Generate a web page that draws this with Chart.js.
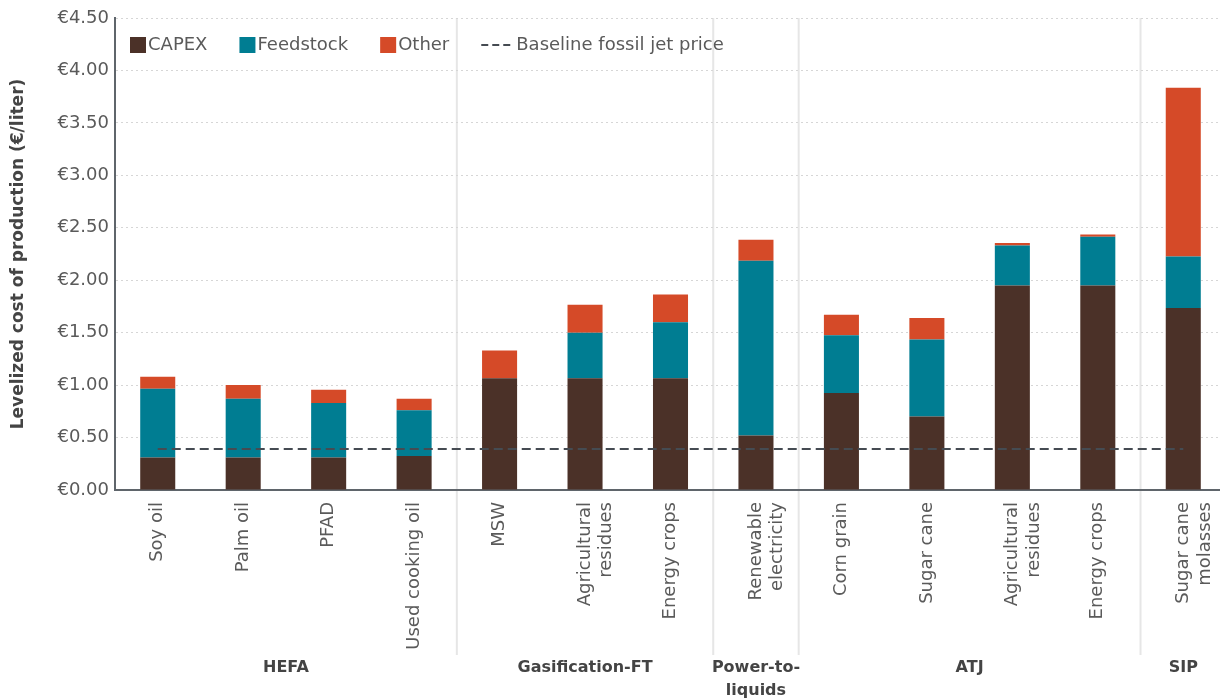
<!DOCTYPE html>
<html>
<head>
<meta charset="utf-8">
<script src="https://cdn.jsdelivr.net/npm/chart.js@4.4.0/dist/chart.umd.min.js"></script>
<style>
body{margin:0;background:#fff;overflow:hidden;}
#wrap{width:1220px;height:700px;overflow:hidden;}
</style>
</head>
<body>
<div id="wrap"><canvas id="costChart" width="1226" height="700"></canvas></div>
<script>
// categories (pathway feedstocks)
const categories = [
  "Soy oil", "Palm oil", "PFAD", "Used cooking oil",
  "MSW", ["Agricultural", "residues"], "Energy crops",
  ["Renewable", "electricity"],
  "Corn grain", "Sugar cane", ["Agricultural", "residues"], "Energy crops",
  ["Sugar cane", "molasses"]
];

// cost components, €/liter
const capex     = [0.31, 0.31, 0.31, 0.325, 1.065, 1.065, 1.065, 0.52, 0.925, 0.70, 1.95, 1.95, 1.735];
const feedstock = [0.655, 0.56, 0.52, 0.435, 0, 0.435, 0.535, 1.665, 0.55, 0.735, 0.38, 0.465, 0.49];
const other     = [0.115, 0.13, 0.125, 0.11, 0.265, 0.265, 0.265, 0.20, 0.195, 0.205, 0.025, 0.02, 1.61];
const baselinePrice = 0.39;

// pathway groups
const groupNames = ["HEFA", "Gasification-FT", ["Power-to-", "liquids"], "ATJ", "SIP"];
const groupFirst = [0, 4, 7, 8, 12];
const groupLast  = [3, 6, 7, 11, 12];

const FONT = "DejaVu Sans";
const TEXT = "#5a5a5a";

const colors = {capex:"#4b3128", feedstock:"#007d92", other:"#d54a28", baseline:"#454b52"};

const groupPlugin = {
  id:"groups",
  beforeDraw(chart){
    const {ctx, chartArea, scales:{x}} = chart;
    ctx.save();
    ctx.strokeStyle = "#e6e6e6";
    ctx.lineWidth = 2;
    groupFirst.slice(1).forEach(function(i){
      const px = (x.getPixelForValue(i - 1) + x.getPixelForValue(i)) / 2;
      ctx.beginPath();
      ctx.moveTo(px, chartArea.top);
      ctx.lineTo(px, chartArea.bottom + 165);
      ctx.stroke();
    });
    ctx.restore();
  },
  afterDraw(chart){
    const {ctx, chartArea, scales:{x}} = chart;
    ctx.save();

    // group names
    ctx.fillStyle = "#444";
    ctx.font = "bold 16px '" + FONT + "'";
    ctx.textAlign = "center";
    ctx.textBaseline = "middle";
    groupNames.forEach(function(name, g){
      const cx = (x.getPixelForValue(groupFirst[g]) + x.getPixelForValue(groupLast[g])) / 2;
      const lines = Array.isArray(name) ? name : [name];
      lines.forEach(function(line, k){
        ctx.fillText(line, cx, 668 + k * 23);
      });
    });

    // legend
    ctx.font = "18px '" + FONT + "'";
    ctx.textAlign = "left";
    let lx = chartArea.left + 15;
    const ly = 45;
    [["CAPEX", colors.capex], ["Feedstock", colors.feedstock], ["Other", colors.other]].forEach(function(item){
      ctx.fillStyle = item[1];
      ctx.fillRect(lx, ly - 8, 16, 16);
      ctx.fillStyle = TEXT;
      ctx.fillText(item[0], lx + 18, ly);
      lx += 18 + ctx.measureText(item[0]).width + 32;
    });
    ctx.strokeStyle = colors.baseline;
    ctx.lineWidth = 2;
    ctx.setLineDash([7, 4]);
    ctx.beginPath();
    ctx.moveTo(lx, ly);
    ctx.lineTo(lx + 30, ly);
    ctx.stroke();
    ctx.fillStyle = TEXT;
    ctx.fillText("Baseline fossil jet price", lx + 35, ly);

    ctx.restore();
  }
};

new Chart(document.getElementById("costChart"), {
  type:"bar",
  data:{
    labels:categories,
    datasets:[
      {label:"Baseline fossil jet price", type:"line", data:categories.map(function(){ return baselinePrice; }),
        borderColor:colors.baseline, borderWidth:2, borderDash:[9,5], pointRadius:0, fill:false, stack:"line", order:0},
      {label:"CAPEX", data:capex, backgroundColor:colors.capex, stack:"cost", order:1},
      {label:"Feedstock", data:feedstock, backgroundColor:colors.feedstock, stack:"cost", order:1},
      {label:"Other", data:other, backgroundColor:colors.other, stack:"cost", order:1}
    ]
  },
  options:{
    responsive:false,
    animation:false,
    layout:{padding:{top:18, right:0, bottom:0, left:0}},
    datasets:{bar:{barPercentage:0.41, categoryPercentage:1}},
    plugins:{legend:{display:false}, tooltip:{enabled:false}},
    scales:{
      x:{
        stacked:true,
        grid:{display:false, drawTicks:false},
        border:{color:"#5f656b", width:2},
        ticks:{color:TEXT, font:{family:FONT, size:18}, maxRotation:90, minRotation:90, padding:12, autoSkip:false},
        afterFit:function(scale){ scale.height = 210; scale.paddingLeft = 0; scale.paddingRight = 0; }
      },
      y:{
        stacked:true,
        min:0, max:4.5,
        grid:{color:"#d6d6d6", drawTicks:false},
        border:{color:"#5f656b", width:2, dash:[2,3]},
        ticks:{stepSize:0.5, color:TEXT, font:{family:FONT, size:18}, padding:6,
          callback:function(v){ return "€" + v.toFixed(2); }},
        title:{display:true, text:"Levelized cost of production (€/liter)", color:"#444",
          font:{family:FONT, size:17, weight:"bold"}, padding:{top:8, bottom:0}},
        afterFit:function(scale){ scale.width = 115; }
      }
    }
  },
  plugins:[groupPlugin]
});
</script>
</body>
</html>
